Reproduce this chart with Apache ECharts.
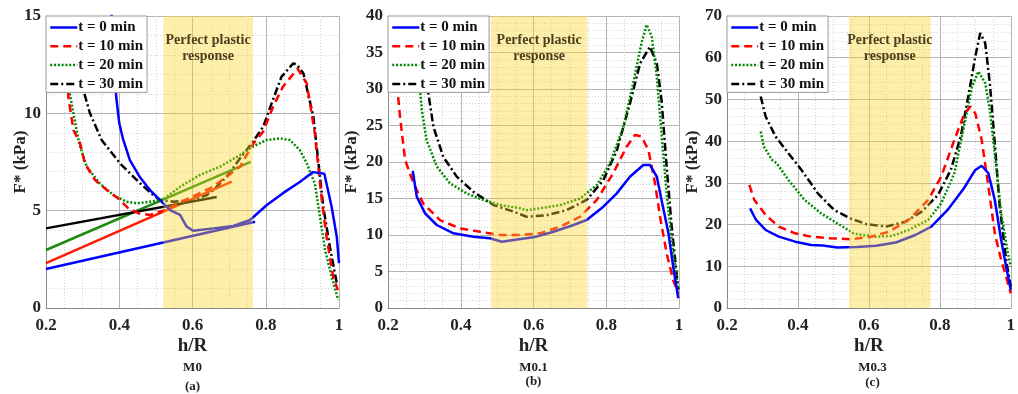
<!DOCTYPE html>
<html>
<head>
<meta charset="utf-8">
<script src="https://cdn.jsdelivr.net/npm/echarts@6/dist/echarts.min.js"></script>
<style>
  html, body { margin: 0; padding: 0; background: #fff; }
  #chart { width: 1018px; height: 394px; }
</style>
</head>
<body>
<div id="chart"></div>
<script>
// legend names
const timeNames = ["t = 0 min", "t = 10 min", "t = 20 min", "t = 30 min"];
const panelNames = ["M0", "M0.1", "M0.3"];
const panelTags = ["(a)", "(b)", "(c)"];

// perfect plastic band, h/R range
const bandM0 = [0.52, 0.765];
const bandM01 = [0.483, 0.748];
const bandM03 = [0.544, 0.774];

// y axis ranges [max, interval]
const yRangeM0 = [15, 5];
const yRangeM01 = [40, 5];
const yRangeM03 = [70, 10];

// M0 curves [h/R, F*]
const m0_t0 = [[0.378,15.6],[0.385,12.5],[0.392,10.8],[0.4,9.5],[0.41,8.7],[0.429,7.6],[0.457,6.7],[0.484,6.06],[0.511,5.55],[0.539,5.03],[0.566,4.78],[0.584,4.18],[0.602,3.97],[0.657,4.09],[0.711,4.21],[0.757,4.52],[0.803,5.29],[0.847,5.9],[0.893,6.47],[0.929,6.98],[0.96,6.9],[0.98,5.19],[0.994,3.65],[1.0,2.3]];
const m0_t10 = [[0.258,11.8],[0.261,10.85],[0.275,9.14],[0.293,8.46],[0.306,7.43],[0.334,6.57],[0.366,6.06],[0.397,5.63],[0.425,5.12],[0.455,4.85],[0.484,4.78],[0.52,5.0],[0.575,5.5],[0.648,6.15],[0.675,6.49],[0.73,7.26],[0.748,7.86],[0.766,8.45],[0.793,9.06],[0.82,10.34],[0.847,11.37],[0.887,12.3],[0.912,11.54],[0.934,8.97],[0.953,5.55],[0.966,3.66],[0.984,1.61],[0.997,0.92]];
const m0_t20 = [[0.262,11.8],[0.265,11.0],[0.278,9.7],[0.29,8.5],[0.311,7.26],[0.347,6.4],[0.384,5.8],[0.42,5.46],[0.448,5.38],[0.484,5.46],[0.52,5.58],[0.566,6.23],[0.62,6.83],[0.675,7.26],[0.73,7.86],[0.766,8.3],[0.802,8.63],[0.839,8.71],[0.866,8.63],[0.893,8.11],[0.912,7.43],[0.934,6.4],[0.948,4.69],[0.962,2.98],[0.98,1.61],[0.998,0.41]];
const m0_t30 = [[0.295,11.8],[0.302,11.2],[0.32,10.0],[0.352,8.63],[0.402,7.43],[0.457,6.4],[0.493,5.8],[0.511,5.55],[0.548,5.46],[0.602,5.55],[0.639,5.8],[0.657,6.06],[0.693,6.74],[0.73,7.69],[0.762,8.46],[0.793,9.31],[0.816,10.51],[0.843,11.88],[0.875,12.57],[0.885,12.5],[0.903,12.05],[0.93,9.83],[0.943,7.6],[0.957,5.2],[0.975,3.15],[0.994,1.27]];

// M0 linear fits
const fitM0_t0 = [[0.2,2.0],[0.771,4.43]];
const fitM0_t10 = [[0.2,2.3],[0.707,6.49]];
const fitM0_t20 = [[0.2,2.98],[0.759,7.51]];
const fitM0_t30 = [[0.2,4.09],[0.666,5.7]];

// M0.1 curves
const m01_t0 = [[0.268,18.8],[0.279,15.25],[0.302,12.97],[0.334,11.37],[0.38,10.23],[0.435,9.77],[0.48,9.55],[0.513,9.08],[0.545,9.3],[0.6,9.68],[0.655,10.45],[0.71,11.37],[0.746,12.05],[0.792,13.88],[0.829,15.7],[0.865,17.98],[0.902,19.59],[0.92,19.6],[0.939,17.98],[0.952,14.8],[0.971,10.23],[0.984,5.66],[0.998,1.33]];
const m01_t10 = [[0.228,28.9],[0.233,26.2],[0.247,20.3],[0.27,17.1],[0.297,14.3],[0.343,12.05],[0.398,10.9],[0.453,10.45],[0.508,10.0],[0.563,10.0],[0.618,10.23],[0.673,11.14],[0.728,12.5],[0.774,14.8],[0.819,18.45],[0.856,22.1],[0.879,23.7],[0.897,23.5],[0.916,21.6],[0.934,17.1],[0.948,12.5],[0.966,7.5],[0.984,3.84],[0.998,2.0]];
const m01_t20 = [[0.286,31],[0.293,27.1],[0.306,23.0],[0.334,19.4],[0.37,17.1],[0.416,15.7],[0.462,14.8],[0.508,14.1],[0.563,13.66],[0.58,13.4],[0.618,13.66],[0.673,14.1],[0.728,15.0],[0.774,16.85],[0.81,19.8],[0.847,24.8],[0.874,30.8],[0.897,36.3],[0.911,38.8],[0.925,37.2],[0.939,31.7],[0.952,23.9],[0.966,15.7],[0.984,7.5],[0.998,2.5]];
const m01_t30 = [[0.308,31],[0.311,29.4],[0.325,24.8],[0.352,20.7],[0.389,18.0],[0.435,15.9],[0.49,14.1],[0.545,13.2],[0.581,12.5],[0.636,12.7],[0.691,13.4],[0.746,14.8],[0.792,17.5],[0.829,21.6],[0.865,28.0],[0.893,33.5],[0.92,35.8],[0.939,33.5],[0.952,28.5],[0.966,19.4],[0.98,11.1],[0.998,2.5]];

// M0.3 curves
const m03_t0 = [[0.265,23.9],[0.282,21.1],[0.309,18.7],[0.346,17.1],[0.392,15.9],[0.437,15.1],[0.47,15.0],[0.511,14.5],[0.566,14.6],[0.62,14.9],[0.676,15.7],[0.731,17.5],[0.776,19.5],[0.822,23.5],[0.868,28.7],[0.9,33.1],[0.918,34.1],[0.937,32.3],[0.955,25.9],[0.973,16.3],[0.987,9.9],[1.0,4.3]];
const m03_t10 = [[0.263,29.5],[0.277,25.9],[0.309,22.3],[0.346,19.5],[0.392,17.9],[0.437,17.1],[0.492,16.7],[0.547,16.5],[0.602,17.0],[0.657,18.3],[0.712,21.1],[0.767,25.9],[0.804,31.5],[0.841,40.3],[0.868,46.3],[0.886,48.3],[0.9,46.7],[0.918,40.3],[0.937,29.1],[0.955,17.9],[0.973,11.5],[0.987,7.5],[1.0,3.5]];
const m03_t20 = [[0.295,42.3],[0.304,38.7],[0.327,35.5],[0.34,34.7],[0.373,30.7],[0.419,25.9],[0.465,22.7],[0.511,20.3],[0.557,17.9],[0.58,17.5],[0.62,17.1],[0.667,17.3],[0.712,18.7],[0.767,21.1],[0.804,25.1],[0.841,32.3],[0.868,43.5],[0.891,53.1],[0.909,56.7],[0.928,53.9],[0.941,47.5],[0.955,37.1],[0.973,22.7],[0.992,13.1],[1.0,9.9]];
const m03_t30 = [[0.295,50.7],[0.309,45.9],[0.337,41.1],[0.373,37.1],[0.41,33.1],[0.456,27.5],[0.502,23.5],[0.547,21.5],[0.593,20.1],[0.648,19.5],[0.703,20.7],[0.749,23.1],[0.795,27.1],[0.831,33.1],[0.859,41.1],[0.882,51.5],[0.9,60.3],[0.914,65.9],[0.928,63.5],[0.941,53.9],[0.955,39.5],[0.969,24.3],[0.987,11.5],[1.0,5.1]];

const FONT = "Liberation Serif";
const lineStyles = [
  { color: "#0000ff", width: 2.5, type: "solid" },
  { color: "#ff0000", width: 2.5, type: [8, 5] },
  { color: "#008a00", width: 2.5, type: [2, 1.8] },
  { color: "#000000", width: 2.5, type: [8, 3, 2, 3] },
];
const fitColors = ["#0000ff", "#ff1a00", "#1f8a10", "#000000"];

const panels = [
  { left: 46, width: 293, curves: [m0_t0, m0_t10, m0_t20, m0_t30], band: bandM0, y: yRangeM0, nameGap: 17 },
  { left: 388, width: 291, curves: [m01_t0, m01_t10, m01_t20, m01_t30], band: bandM01, y: yRangeM01, nameGap: 28 },
  { left: 727, width: 291, curves: [m03_t0, m03_t10, m03_t20, m03_t30], band: bandM03, y: yRangeM03, nameGap: 26 },
];
const tagTops = [380, 375, 376];

const chart = echarts.init(document.getElementById("chart"));

const grid = [], xAxis = [], yAxis = [], legend = [], series = [], title = [];

panels.forEach((p, i) => {
  grid.push({ left: p.left, top: 16, width: p.width, height: 292 });
  xAxis.push({
    type: "value", gridIndex: i, min: 0.2, max: 1, interval: 0.2,
    name: "h/R", nameLocation: "middle", nameGap: 29, nameMoveOverlap: false,
    nameTextStyle: { fontFamily: FONT, fontWeight: "bold", fontSize: 19, color: "#222" },
    axisLine: { onZero: false, lineStyle: { color: "#888", width: 1 } },
    axisTick: { show: false },
    axisLabel: {
      fontFamily: FONT, fontWeight: "bold", fontSize: 17, color: "#222", margin: 9,
      formatter: (v) => (v === 1 ? "1" : v.toFixed(1)),
    },
    splitLine: { show: true, lineStyle: { color: "#b4b4b4", width: 1 } },
    minorTick: { show: false, splitNumber: 4 },
    minorSplitLine: { show: true, lineStyle: { color: "#d4d4d4", width: 1, type: [1, 2] } },
  });
  yAxis.push({
    type: "value", gridIndex: i, min: 0, max: p.y[0], interval: p.y[1],
    name: "F* (kPa)", nameLocation: "middle", nameGap: p.nameGap, nameMoveOverlap: false,
    nameTextStyle: { fontFamily: FONT, fontWeight: "bold", fontSize: 17, color: "#222" },
    axisLine: { show: true, lineStyle: { color: "#888", width: 1 } },
    axisTick: { show: false },
    axisLabel: { fontFamily: FONT, fontWeight: "bold", fontSize: 17, color: "#222", margin: 5 },
    splitLine: { show: true, lineStyle: { color: "#b4b4b4", width: 1 } },
    minorTick: { show: false, splitNumber: 5 },
    minorSplitLine: { show: true, lineStyle: { color: "#d4d4d4", width: 1, type: [1, 2] } },
  });
  legend.push({
    orient: "vertical", left: p.left, top: 16,
    data: timeNames,
    backgroundColor: "#fff", borderColor: "#999", borderWidth: 1, borderRadius: 0,
    padding: [4, 4, 1, 3],
    itemWidth: 27, itemHeight: 14, itemGap: 3.8,
    selectedMode: false,
    itemStyle: { opacity: 0, borderWidth: 0 },
    lineStyle: { width: 2.5 },
    textStyle: { fontFamily: FONT, fontWeight: "bold", fontSize: 15, color: "#111", lineHeight: 15, padding: [0, 0, 0, -4] },
    z: 20,
  });
  p.curves.forEach((data, k) => {
    series.push({
      name: timeNames[k], type: "line", xAxisIndex: i, yAxisIndex: i,
      data: data, showSymbol: false, symbol: "none", smooth: false,
      lineStyle: lineStyles[k], itemStyle: { color: lineStyles[k].color },
      z: 3 + (3 - k) * 0.1, animation: false,
    });
  });
  // yellow band drawn over the lines
  series.push({
    name: "band" + i, type: "line", xAxisIndex: i, yAxisIndex: i, data: [],
    animation: false, silent: true,
    markArea: {
      silent: true, z: 8,
      itemStyle: { color: "rgba(250, 212, 40, 0.4)" },
      label: {
        show: true, position: "insideTop", distance: 16,
        formatter: "Perfect plastic\nresponse",
        fontFamily: FONT, fontWeight: "bold", fontSize: 14, lineHeight: 16, color: "#4a4020",
      },
      data: [[{ xAxis: p.band[0] }, { xAxis: p.band[1] }]],
    },
  });
  title.push({
    text: panelNames[i], left: p.left + p.width / 2, top: 361, textAlign: "center",
    textStyle: { fontFamily: FONT, fontWeight: "bold", fontSize: 13, color: "#222" },
    padding: 0,
  });
  title.push({
    text: panelTags[i], left: p.left + p.width / 2, top: tagTops[i], textAlign: "center",
    textStyle: { fontFamily: FONT, fontWeight: "bold", fontSize: 13, color: "#222" },
    padding: 0,
  });
});

// linear fits in panel (a)
[fitM0_t0, fitM0_t10, fitM0_t20, fitM0_t30].forEach((data, k) => {
  series.push({
    name: "fit" + k, type: "line", xAxisIndex: 0, yAxisIndex: 0,
    data: data, showSymbol: false, symbol: "none",
    lineStyle: { color: fitColors[k], width: 2.5 }, z: 3, animation: false,
  });
});

chart.setOption({
  animation: false,
  backgroundColor: "#fff",
  title, grid, xAxis, yAxis, legend, series,
});
</script>
</body>
</html>
